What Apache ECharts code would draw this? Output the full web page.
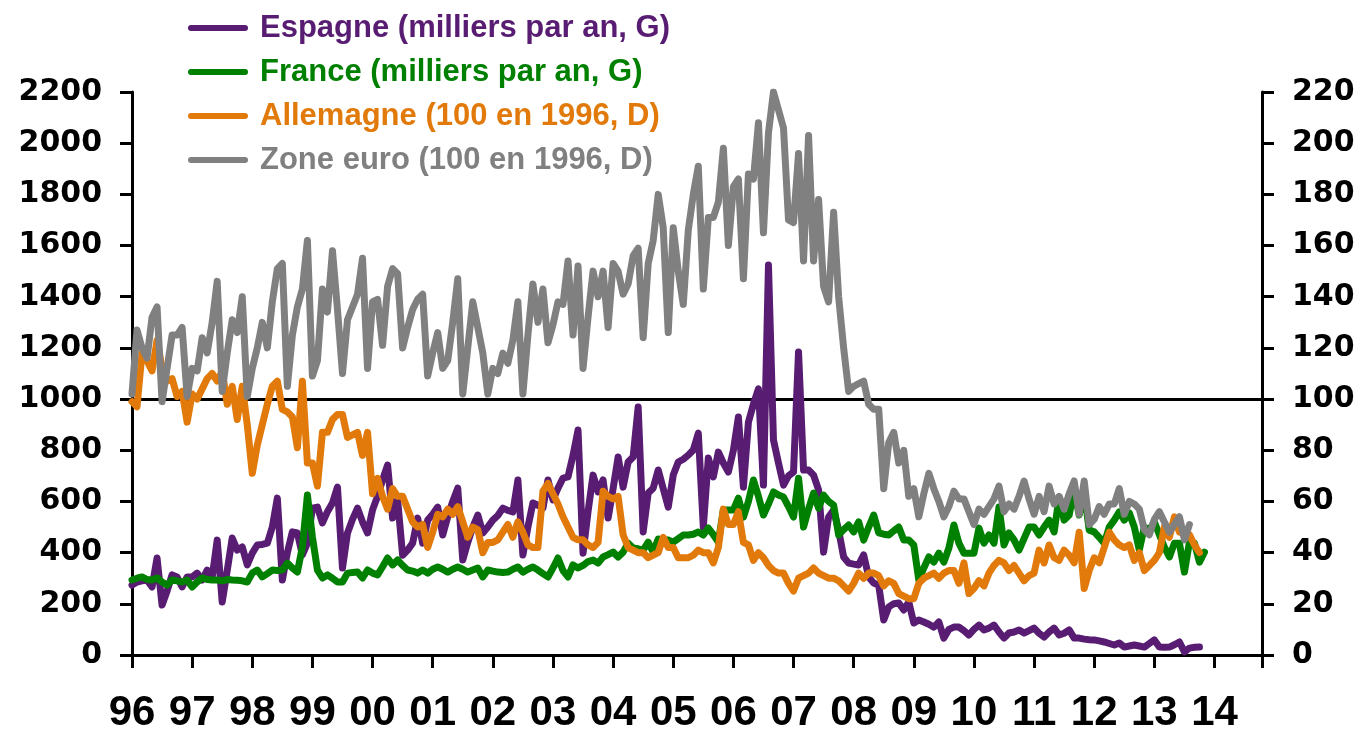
<!DOCTYPE html>
<html>
<head>
<meta charset="utf-8">
<script src="https://cdn.jsdelivr.net/npm/echarts@6/dist/echarts.min.js"></script>
<style>
  html, body { margin: 0; padding: 0; background: #fff; }
  #chart { width: 1364px; height: 735px; }
</style>
</head>
<body>
<div id="chart"></div>
<script>
// monthly series, first point = January 1996
const START = 1996
const yearLabels = ['96','97','98','99','00','01','02','03','04','05','06','07','08','09','10','11','12','13','14']

// Espagne, milliers par an (axe gauche)
const espagne = [273,285,290,293,266,379,195,250,313,305,266,305,
  305,320,293,332,305,449,207,330,457,410,422,352,
  398,430,432,437,500,613,293,400,481,477,391,437,
  574,578,516,560,594,656,340,477,530,574,520,477,
  567,620,684,742,535,606,390,410,437,535,437,527,
  550,578,469,540,600,652,371,440,500,547,477,500,
  527,545,574,565,559,684,391,500,594,585,574,684,
  606,652,691,696,780,879,398,560,703,637,684,535,
  650,774,656,754,774,969,481,633,652,723,650,578,
  703,754,765,781,801,867,500,770,696,793,750,715,
  800,930,656,910,980,1040,664,1524,840,750,664,700,
  715,1184,723,723,703,645,402,539,567,488,383,359,
  355,352,391,305,281,273,137,188,200,203,176,207,
  125,137,129,120,109,129,66,100,109,109,95,78,
  100,117,98,105,117,90,66,86,90,98,86,95,
  105,85,70,90,105,78,85,98,66,66,62,60,
  59,55,51,45,39,47,31,35,39,35,31,45,
  59,31,30,31,40,51,12,27,30,31]

// France, milliers par an (axe gauche)
const france = [293,300,305,295,293,301,285,273,293,290,285,293,
  266,285,301,295,293,293,290,295,293,292,290,285,
  320,332,305,318,332,330,332,359,340,324,422,625,
  461,332,301,313,300,285,285,320,322,324,301,332,
  320,313,345,379,352,371,350,332,328,320,332,320,
  335,344,335,324,335,344,335,324,332,340,305,332,
  328,324,322,324,335,344,324,335,344,332,318,305,
  340,379,330,305,352,340,350,365,371,359,383,392,
  402,383,402,437,418,415,410,441,402,453,450,449,
  441,455,469,469,472,481,469,496,470,441,567,567,
  567,613,539,600,684,620,547,590,637,625,617,580,
  539,691,500,570,633,574,625,600,586,469,490,508,
  481,520,449,500,547,477,472,469,485,500,449,449,
  430,293,340,383,363,398,363,418,508,437,398,398,
  398,496,437,469,437,578,430,477,450,410,455,500,
  500,469,500,527,481,617,527,547,645,547,637,488,
  481,460,437,500,527,559,527,555,500,410,500,488,
  520,470,422,383,437,437,324,441,437,363,402]

// Allemagne, 100 en 1996 (axe droit)
const allemagne = [99,97,118,115,111,123,112,107,108,101,103,91,
  102,100,104,108,110,107,111,98,105,92,105,90,
  71,82,90,98,105,107,96,95,93,81,107,75,
  75,66,87,87,92,94,94,85,86,87,78,87,
  63,69,62,57,65,62,62,57,52,50,51,42,
  48,55,54,57,55,58,52,46,50,49,40,44,
  44,45,48,51,46,52,48,43,42,42,64,67,
  63,59,54,50,46,45,45,43,42,44,64,62,
  61,62,47,42,41,40,40,38,39,40,46,42,
  42,38,38,38,39,41,40,40,36,42,57,51,
  51,56,44,43,37,40,38,35,33,32,32,28,
  25,30,31,32,34,32,31,30,30,29,27,25,
  28,32,30,32,32,31,27,29,28,24,23,22,
  22,28,30,31,32,30,32,33,33,28,36,24,
  26,29,27,32,35,37,36,33,35,32,29,31,
  32,41,36,43,38,37,41,39,36,48,26,33,
  38,36,42,48,45,43,42,43,37,40,33,35,
  37,40,50,46,54,48,48,47,43,40]

// Zone euro, 100 en 1996 (axe droit)
const zoneEuro = [102,127,120,116,132,136,99,112,125,125,128,101,
  112,111,124,118,130,146,103,118,131,126,140,101,
  112,120,130,120,138,151,153,105,125,136,143,162,
  109,115,143,134,158,135,110,131,136,141,155,112,
  138,139,121,144,151,149,120,128,135,139,141,109,
  118,126,112,115,130,147,102,120,138,128,118,102,
  112,110,118,114,123,138,102,125,145,130,143,122,
  129,138,137,154,125,152,112,132,150,140,150,128,
  153,150,141,145,156,159,124,153,162,180,167,126,
  167,150,137,166,180,191,143,171,171,177,198,160,
  183,186,147,188,186,208,165,204,220,213,206,170,
  169,196,154,203,154,178,144,138,173,140,120,103,
  105,106,107,98,96,96,65,83,87,75,80,62,
  65,54,63,71,65,60,54,58,64,61,61,56,
  51,57,55,58,61,66,56,59,57,62,68,61,
  55,62,56,66,59,62,57,63,68,55,68,51,
  53,58,55,59,59,65,55,60,59,57,49,47,
  53,56,52,48,51,54,45,51]

const names = ['Espagne (milliers par an, G)', 'France (milliers par an, G)', 'Allemagne (100 en 1996, D)', 'Zone euro (100 en 1996, D)']
const colors = ['#581c72', '#008000', '#e17a0a', '#808080']

const monthly = vals => vals.map((v, i) => [START + i / 12, v])

const axisColor = { color: '#000', width: 3 }
// pill shaped legend marker (keeps its aspect, so it stays 60 x 6)
const legendIcon = 'path://M3,0 L57,0 A3,3 0 0 1 57,6 L3,6 A3,3 0 0 1 3,0 Z'

function lineSeries(idx, vals, yAxisIndex) {
  return {
    name: names[idx],
    type: 'line',
    yAxisIndex: yAxisIndex,
    data: monthly(vals),
    showSymbol: false,
    symbol: 'none',
    color: colors[idx],
    lineStyle: { color: colors[idx], width: 7, cap: 'round', join: 'round' },
    emphasis: { disabled: true }
  }
}

const chart = echarts.init(document.getElementById('chart'))

const series = [
  lineSeries(0, espagne, 0),
  lineSeries(1, france, 0),
  lineSeries(2, allemagne, 1),
  lineSeries(3, zoneEuro, 1)
]
series[0].markLine = {
  silent: true,
  symbol: 'none',
  z: 1,
  label: { show: false },
  lineStyle: { color: '#000', width: 3, type: 'solid' },
  data: [{ yAxis: 1000 }]
}

const yLabel = {
  margin: 30,
  color: '#000',
  fontFamily: 'DejaVu Sans, sans-serif',
  fontWeight: 'bold',
  fontSize: 30,
  formatter: v => String(v)
}

chart.setOption({
  animation: false,
  backgroundColor: '#fff',
  grid: { left: 132, right: 102, top: 92, bottom: 80 },
  legend: {
    orient: 'vertical',
    left: 183,
    top: 6,
    icon: legendIcon,
    itemWidth: 60,
    itemHeight: 34,
    itemGap: 10,
    textStyle: {
      fontFamily: 'Liberation Sans, Arial, sans-serif',
      fontWeight: 'bold',
      fontSize: 31,
      lineHeight: 34,
      padding: [0, 0, 0, 7]
    },
    data: names.map((n, i) => ({ name: n, itemStyle: { color: colors[i] }, textStyle: { color: colors[i] } }))
  },
  xAxis: {
    type: 'value',
    min: START,
    max: 2014.79,
    interval: 1,
    axisLine: { onZero: false, lineStyle: axisColor },
    axisTick: { length: 13, lineStyle: axisColor },
    splitLine: { show: false },
    axisLabel: {
      margin: 37,
      color: '#000',
      fontFamily: 'Liberation Sans, Arial, sans-serif',
      fontWeight: 'bold',
      fontSize: 42,
      formatter: v => {
        const r = Math.round(v)
        if (Math.abs(v - r) > 1e-6) return ''
        return yearLabels[r - START] || ''
      }
    }
  },
  yAxis: [
    {
      type: 'value',
      position: 'left',
      min: 0,
      max: 2200,
      interval: 200,
      axisLine: { show: true, lineStyle: axisColor },
      axisTick: { show: true, length: 12, lineStyle: axisColor },
      splitLine: { show: false },
      axisLabel: yLabel
    },
    {
      type: 'value',
      position: 'right',
      min: 0,
      max: 220,
      interval: 20,
      axisLine: { show: true, lineStyle: axisColor },
      axisTick: { show: true, length: 12, lineStyle: axisColor },
      splitLine: { show: false },
      axisLabel: yLabel
    }
  ],
  series: series
})
</script>
</body>
</html>
